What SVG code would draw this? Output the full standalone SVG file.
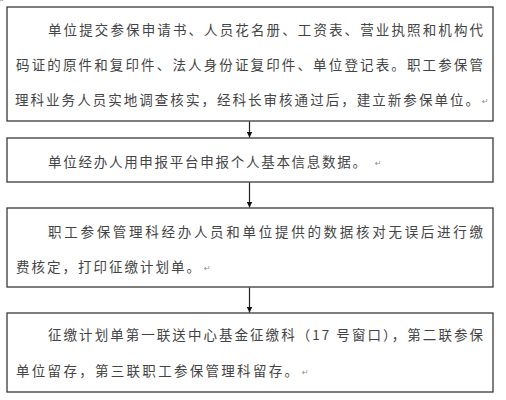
<svg xmlns="http://www.w3.org/2000/svg" width="506" height="400" viewBox="0 0 506 400">
<defs>
<style>
.box{fill:#fff;stroke:#3a3a3a;stroke-width:1.3}
.t{font-family:"Noto Sans CJK SC","Noto Sans",sans-serif;font-size:13.5px;fill:#444}
.r{font-family:"DejaVu Sans",sans-serif;font-size:8px;fill:#8a8a8a}
.c{stroke:#222;stroke-width:1.2;fill:none}
</style>
<marker id="ah" viewBox="0 0 10 10" refX="10" refY="5" markerWidth="6" markerHeight="6" markerUnits="userSpaceOnUse" orient="auto">
<path d="M0,0 L10,5 L0,10 Z" fill="#111"/>
</marker>
</defs>
<rect width="506" height="400" fill="#fff"/>
<text class="r" x="-2" y="3">↵</text>
<g id="node1">
<rect class="box" x="7" y="7" width="486" height="114"/>
<text class="t" x="48" y="35" textLength="435" lengthAdjust="spacing">单位提交参保申请书、人员花名册、工资表、营业执照和机构代</text>
<text class="t" x="16" y="70" textLength="467" lengthAdjust="spacing">码证的原件和复印件、法人身份证复印件、单位登记表。职工参保管</text>
<text class="t" x="15" y="105" textLength="464" lengthAdjust="spacing">理科业务人员实地调查核实，经科长审核通过后，建立新参保单位。</text>
<text class="r" x="482" y="104">↵</text>
</g>
<g id="node2">
<rect class="box" x="7" y="138" width="486" height="44"/>
<text class="t" x="48" y="167" textLength="318" lengthAdjust="spacing">单位经办人用申报平台申报个人基本信息数据。</text>
<text class="r" x="375" y="166">↵</text>
</g>
<g id="node3">
<rect class="box" x="7" y="208" width="486" height="79"/>
<text class="t" x="48" y="237" textLength="435" lengthAdjust="spacing">职工参保管理科经办人员和单位提供的数据核对无误后进行缴</text>
<text class="t" x="16" y="272" textLength="184" lengthAdjust="spacing">费核定，打印征缴计划单。</text>
<text class="r" x="204" y="271">↵</text>
</g>
<g id="node4">
<rect class="box" x="7" y="313" width="486" height="79"/>
<text class="t" x="48" y="340" textLength="435" lengthAdjust="spacing">征缴计划单第一联送中心基金征缴科（17 号窗口），第二联参保</text>
<text class="t" x="16" y="376" textLength="282" lengthAdjust="spacing">单位留存，第三联职工参保管理科留存。</text>
<text class="r" x="302" y="375">↵</text>
</g>
<g id="connectors">
<line class="c" x1="249.5" y1="121.5" x2="249.5" y2="137.5" marker-end="url(#ah)"/>
<line class="c" x1="249.5" y1="182.5" x2="249.5" y2="207.5" marker-end="url(#ah)"/>
<line class="c" x1="249.5" y1="287.5" x2="249.5" y2="312.5" marker-end="url(#ah)"/>
</g>
</svg>
